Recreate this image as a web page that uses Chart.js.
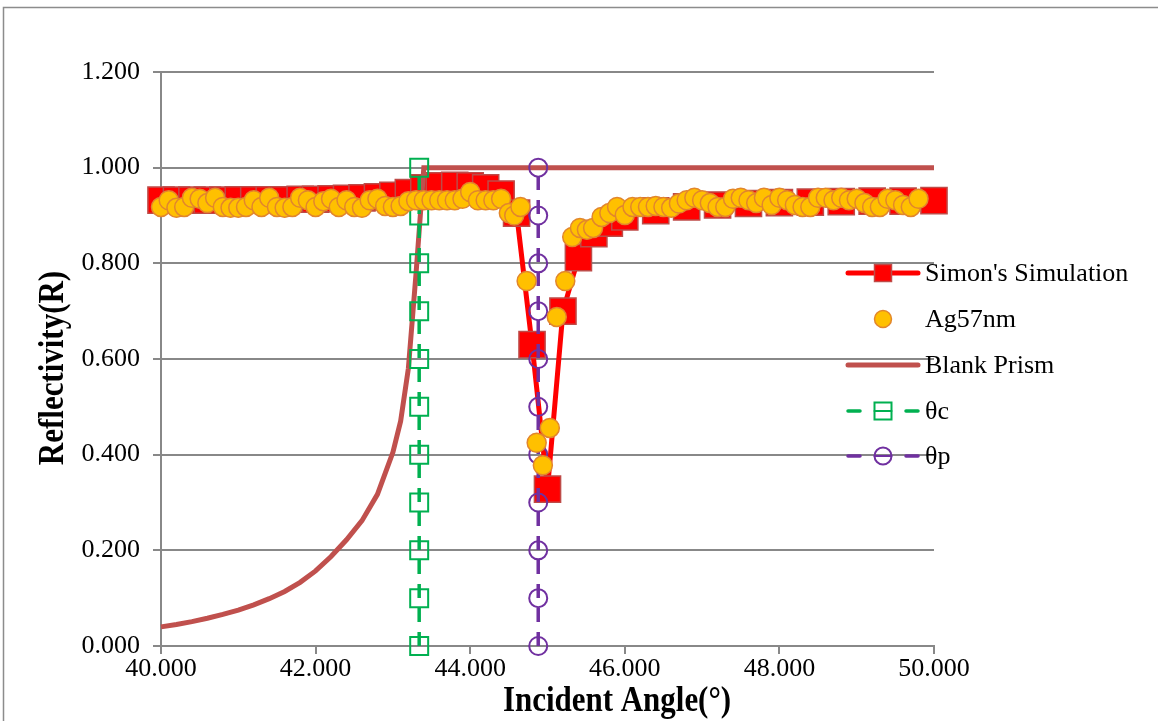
<!DOCTYPE html>
<html>
<head>
<meta charset="utf-8">
<script src="https://cdn.jsdelivr.net/npm/chart.js@4"></script>
<style>
  html, body { margin: 0; padding: 0; background: #fff; }
  canvas { display: block; }
</style>
</head>
<body>
<canvas id="myChart" width="1158" height="721"></canvas>
<script>
// Simon's simulation (angle, R)
const simAngle = [40.0, 40.2, 40.4, 40.6, 40.8, 41.0, 41.2, 41.4, 41.6, 41.8, 42.0, 42.2, 42.4, 42.6, 42.8,
  43.0, 43.2, 43.4, 43.6, 43.8, 44.0, 44.2, 44.4, 44.6, 44.8, 45.0, 45.2, 45.4, 45.6, 45.8, 46.0,
  46.4, 46.8, 47.2, 47.6, 48.0, 48.4, 48.8, 49.2, 49.6, 50.0];
const simR = [0.932, 0.932, 0.932, 0.932, 0.932, 0.933, 0.933, 0.933, 0.933, 0.934, 0.934, 0.935, 0.936, 0.937, 0.939,
  0.942, 0.948, 0.958, 0.962, 0.963, 0.962, 0.958, 0.945, 0.905, 0.630, 0.328, 0.700, 0.812, 0.862, 0.884, 0.897,
  0.910, 0.918, 0.922, 0.925, 0.927, 0.928, 0.929, 0.930, 0.930, 0.931];

// measured Ag 57nm film
const agAngle = [40.0, 40.1, 40.2, 40.3, 40.4, 40.5, 40.6, 40.7, 40.8, 40.9, 41.0, 41.1, 41.2, 41.3, 41.4, 41.5,
  41.6, 41.7, 41.8, 41.9, 42.0, 42.1, 42.2, 42.3, 42.4, 42.5, 42.6, 42.7, 42.8, 42.9, 43.0, 43.1, 43.2, 43.3,
  43.4, 43.5, 43.6, 43.7, 43.8, 43.9, 44.0, 44.1, 44.2, 44.3, 44.4, 44.5, 44.57, 44.65, 44.73, 44.86, 44.94,
  45.03, 45.12, 45.23, 45.32, 45.42, 45.51, 45.59, 45.7, 45.8, 45.9, 46.0, 46.1, 46.2, 46.3, 46.4, 46.5, 46.6,
  46.7, 46.8, 46.9, 47.0, 47.1, 47.2, 47.3, 47.4, 47.5, 47.6, 47.7, 47.8, 47.9, 48.0, 48.1, 48.2, 48.3, 48.4,
  48.5, 48.6, 48.7, 48.8, 48.9, 49.0, 49.1, 49.2, 49.3, 49.4, 49.5, 49.6, 49.7, 49.8];
const agR = [0.918, 0.932, 0.916, 0.918, 0.937, 0.935, 0.926, 0.937, 0.918, 0.916, 0.916, 0.918, 0.932, 0.918, 0.937, 0.918,
  0.916, 0.918, 0.937, 0.932, 0.918, 0.930, 0.935, 0.918, 0.932, 0.918, 0.916, 0.932, 0.935, 0.920, 0.918, 0.920, 0.930, 0.932,
  0.932, 0.932, 0.932, 0.932, 0.932, 0.935, 0.949, 0.932, 0.932, 0.932, 0.935, 0.905, 0.900, 0.918, 0.763, 0.425, 0.378,
  0.456, 0.688, 0.763, 0.855, 0.874, 0.870, 0.874, 0.897, 0.905, 0.918, 0.901, 0.918, 0.918, 0.918, 0.920, 0.918, 0.916,
  0.925, 0.932, 0.937, 0.932, 0.926, 0.918, 0.918, 0.935, 0.937, 0.932, 0.926, 0.937, 0.922, 0.937, 0.932, 0.922, 0.918, 0.918,
  0.937, 0.937, 0.932, 0.937, 0.932, 0.935, 0.926, 0.918, 0.918, 0.935, 0.932, 0.922, 0.918, 0.935];

// blank prism
const prismAngle = [40.0, 40.2, 40.4, 40.6, 40.8, 41.0, 41.2, 41.4, 41.6, 41.8, 42.0, 42.2, 42.4, 42.6, 42.8,
  43.0, 43.1, 43.2, 43.3, 43.4, 50.0];
const prismR = [0.040, 0.045, 0.051, 0.058, 0.066, 0.075, 0.086, 0.099, 0.114, 0.133, 0.157, 0.187, 0.222, 0.262, 0.317,
  0.405, 0.470, 0.580, 0.780, 1.000, 1.000];

// critical angle and resonance angle markers
const thetaC = 43.34;
const thetaP = 44.88;
const markerR = [0, 0.1, 0.2, 0.3, 0.4, 0.5, 0.6, 0.7, 0.8, 0.9, 1.0];

const yTicks = [0, 0.2, 0.4, 0.6, 0.8, 1.0, 1.2];
const xTicks = [40, 42, 44, 46, 48, 50];
const xTitle = 'Incident Angle(°)';
const yTitle = 'Reflectivity(R)';

const pts = (xs, ys) => ys.map((y, i) => ({ x: Array.isArray(xs) ? xs[i] : xs, y: y }));

const serif = "'Liberation Serif', 'Times New Roman', serif";
const gray = '#888888';

// outer border + axis titles (narrow bold serif)
const frame = {
  id: 'frame',
  beforeDraw(chart) {
    const c = chart.ctx;
    c.save();
    c.fillStyle = '#fff';
    c.fillRect(0, 0, chart.width, chart.height);
    c.strokeStyle = '#8c8c8c';
    c.lineWidth = 1.5;
    c.beginPath();
    c.moveTo(3.5, chart.height);
    c.lineTo(3.5, 7.5);
    c.lineTo(chart.width, 7.5);
    c.stroke();
    c.restore();
  },
  afterDraw(chart) {
    const c = chart.ctx;
    c.save();
    c.fillStyle = '#000';
    c.font = 'bold 36px ' + serif;
    c.textAlign = 'center';
    c.textBaseline = 'alphabetic';
    c.save();
    c.translate(617, 711);
    c.scale(0.86, 1);
    c.fillText(xTitle, 0, 0);
    c.restore();
    c.save();
    c.translate(63, 368);
    c.rotate(-Math.PI / 2);
    c.scale(0.86, 1);
    c.fillText(yTitle, 0, 0);
    c.restore();
    c.restore();
  }
};

// legend with line + marker samples
const sideLegend = {
  id: 'sideLegend',
  afterDraw(chart) {
    const c = chart.ctx;
    const rows = [273, 319, 365, 411, 456];
    const x0 = 848, x1 = 918, xm = 883;
    c.save();
    chart.data.datasets.forEach((ds, i) => {
      const y = rows[i];
      if (ds.showLine) {
        c.strokeStyle = ds.borderColor;
        c.lineWidth = ds.borderWidth;
        c.lineCap = 'round';
        c.setLineDash([]);
        c.beginPath();
        if (ds.borderDash) {
          c.moveTo(x0, y); c.lineTo(x0 + 12, y);
          c.moveTo(x1 - 12, y); c.lineTo(x1, y);
        } else {
          c.moveTo(x0, y); c.lineTo(x1, y);
        }
        c.stroke();
      }
      if (ds.pointRadius > 0) {
        c.lineWidth = ds.pointBorderWidth;
        c.strokeStyle = ds.pointBorderColor;
        c.fillStyle = ds.pointBackgroundColor;
        c.beginPath();
        if (ds.pointStyle === 'rect') {
          c.rect(xm - 8.5, y - 8.5, 17, 17);
        } else {
          c.arc(xm, y, 8.5, 0, Math.PI * 2);
        }
        c.fill();
        c.stroke();
        if (ds.borderDash) {
          c.beginPath();
          c.moveTo(xm - 8.5, y); c.lineTo(xm + 8.5, y);
          c.stroke();
        }
      }
      c.fillStyle = '#000';
      c.font = '26px ' + serif;
      c.textBaseline = 'middle';
      c.textAlign = 'left';
      c.fillText(ds.label, 925, y + 1);
    });
    c.restore();
  }
};

const ctx = document.getElementById('myChart');

new Chart(ctx, {
  type: 'scatter',
  data: {
    datasets: [{
      label: "Simon's Simulation",
      data: pts(simAngle, simR),
      showLine: true,
      borderColor: '#FF0000',
      borderWidth: 5,
      pointStyle: 'rect',
      pointRadius: 18.5,
      pointBackgroundColor: '#FF0000',
      pointBorderColor: '#BE4B48',
      pointBorderWidth: 1.5,
      order: 5
    }, {
      label: 'Ag57nm',
      data: pts(agAngle, agR),
      showLine: false,
      pointStyle: 'circle',
      pointRadius: 9.5,
      pointBackgroundColor: '#FFC000',
      pointBorderColor: '#E2862C',
      pointBorderWidth: 1.5,
      order: 1
    }, {
      label: 'Blank Prism',
      data: pts(prismAngle, prismR),
      showLine: true,
      borderColor: '#C0504D',
      borderWidth: 5,
      pointRadius: 0,
      order: 4
    }, {
      label: 'θc',
      data: pts(thetaC, markerR),
      showLine: true,
      borderColor: '#00B050',
      borderWidth: 3.5,
      borderDash: [14, 10],
      pointStyle: 'rect',
      pointRadius: 12.7,
      pointBackgroundColor: 'rgba(0,0,0,0)',
      pointBorderColor: '#00B050',
      pointBorderWidth: 2,
      order: 3
    }, {
      label: 'θp',
      data: pts(thetaP, markerR),
      showLine: true,
      borderColor: '#7030A0',
      borderWidth: 3.5,
      borderDash: [14, 10],
      pointStyle: 'circle',
      pointRadius: 9,
      pointBackgroundColor: 'rgba(0,0,0,0)',
      pointBorderColor: '#7030A0',
      pointBorderWidth: 2,
      order: 2
    }]
  },
  options: {
    responsive: false,
    animation: false,
    devicePixelRatio: 1,
    clip: false,
    layout: { padding: { left: 0, top: 72, right: 224, bottom: 0 } },
    plugins: {
      legend: { display: false },
      tooltip: { enabled: false }
    },
    elements: { line: { tension: 0 } },
    scales: {
      x: {
        type: 'linear',
        min: 40,
        max: 50,
        afterBuildTicks: (s) => { s.ticks = xTicks.map(v => ({ value: v })); },
        afterFit: (s) => { s.height = 75; },
        ticks: {
          color: '#000',
          font: { family: serif, size: 26 },
          padding: 0,
          maxRotation: 0,
          callback: (v) => v.toFixed(3)
        },
        grid: { drawOnChartArea: false, tickLength: 8, color: gray, lineWidth: 2 },
        border: { display: true, color: gray, width: 2 },
        title: { display: false }
      },
      y: {
        type: 'linear',
        min: 0,
        max: 1.2,
        afterBuildTicks: (s) => { s.ticks = yTicks.map(v => ({ value: v })); },
        afterFit: (s) => { s.width = 161; },
        ticks: {
          color: '#000',
          font: { family: serif, size: 26 },
          padding: 13,
          callback: (v) => v.toFixed(3)
        },
        grid: { tickLength: 8, color: gray, lineWidth: 2 },
        border: { display: true, color: gray, width: 2 },
        title: { display: false }
      }
    }
  },
  plugins: [frame, sideLegend]
});
</script>
</body>
</html>
